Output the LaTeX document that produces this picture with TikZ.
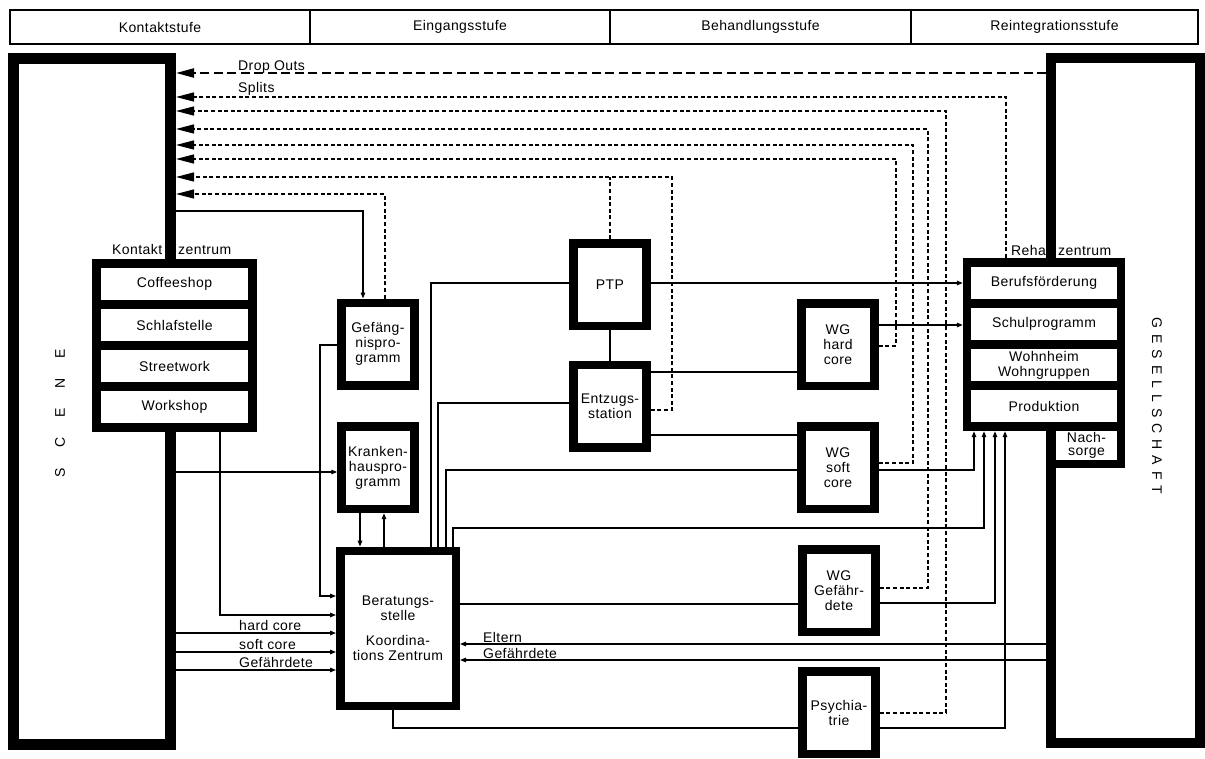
\documentclass[tikz,border=0pt]{standalone}
\usepackage{fontspec}
\setmainfont{Liberation Sans}[LetterSpace=3.0]
\usetikzlibrary{arrows.meta,positioning,calc}

\begin{document}
\begin{tikzpicture}[
  x=1pt, y=-1pt,
  font=\fontsize{14}{15}\selectfont,
  wall/.style={draw, line width=11pt, inner sep=0pt},
  stage/.style={draw, line width=1.4pt, minimum width=300pt, minimum height=34pt, inner sep=0pt},
  prog/.style={draw, line width=8.5pt, fill=white, align=center, inner sep=0pt,
    minimum width=73pt, minimum height=82.5pt},
  centre/.style={fill=black, inner sep=0pt, minimum width=165pt, minimum height=173pt},
  unit/.style={fill=white, inner sep=0pt, align=center, minimum width=147pt, minimum height=32pt},
  flow/.style={line width=1.3pt, -{Triangle[length=6pt, width=4.5pt]}},
  link/.style={line width=1.3pt},
  back/.style={line width=1.3pt, dash pattern=on 4pt off 2.6pt, -{Triangle[length=18pt, width=9pt]}},
  backline/.style={line width=1.3pt, dash pattern=on 4pt off 2.6pt},
  drop/.style={line width=2.2pt, dash pattern=on 9pt off 4.5pt, -{Triangle[length=18pt, width=9pt]}},
  lab/.style={inner sep=0pt, anchor=base west}
]
\useasboundingbox (0,0) rectangle (1205,758);

% stages
\node[stage] (kstufe) at (160,27) {Kontaktstufe};
\node[stage] (estufe) at (460,27) {Eingangsstufe};
\node[stage, minimum width=301pt] (bstufe) at (760.5,27) {Behandlungsstufe};
\node[stage, minimum width=287pt] (rstufe) at (1054.5,27) {Reintegrationsstufe};

% scene and society
\node[wall, minimum width=157pt, minimum height=686pt] (scene) at (92,401.5) {};
\node[wall, line width=10pt, minimum width=149pt, minimum height=685pt] (ges) at (1125.5,400.5) {};
\node[rotate=90] (scenetext) at (60,413)
  {S\hspace{20pt}C\hspace{20pt}E\hspace{20pt}N\hspace{20pt}E};
\node[rotate=-90] (gestext) at (1157,406)
  {G\hspace{6pt}E\hspace{6pt}S\hspace{6pt}E\hspace{6pt}L\hspace{6pt}L\hspace{6pt}S\hspace{6pt}C\hspace{6pt}H\hspace{6pt}A\hspace{6pt}F\hspace{6pt}T};

% contact centre
\node[centre] (kontakt) at (174.5,345.5) {};
\node[unit] (coffee) at (174.5,284) {Coffeeshop};
\node[unit] (schlaf) at (174.5,325) {Schlafstelle};
\node[unit] (street) at (174.5,366) {Streetwork};
\node[unit] (work) at (174.5,407) {Workshop};
\node[lab] (kontaktlab) at (112,254) {Kontakt};
\node[lab] (kzentrumlab) at (178,254) {zentrum};

% rehab centre
\node[centre, minimum width=162pt] (reha) at (1044,344.5) {};
\node[unit, minimum width=146pt] (beruf) at (1044,283) {Berufsförderung};
\node[unit, minimum width=146pt] (schul) at (1044,324) {Schulprogramm};
\node[unit, minimum width=146pt] (wohn) at (1044,365) {Wohnheim\\Wohngruppen};
\node[unit, minimum width=146pt] (prod) at (1044,406) {Produktion};
\node[fill=black, inner sep=0pt, minimum width=79pt, minimum height=38pt] (nachbox) at (1085.5,449) {};
\node[unit, minimum width=61pt, minimum height=29pt, font=\fontsize{14}{13}\selectfont]
  (nachsorge) at (1086.5,445.5) {Nach-\\sorge};
\node[lab] (rehalab) at (1011,255) {Reha};
\node[lab] (rzentrumlab) at (1058,255) {zentrum};

% programmes
\node[prog] (gef) at (378,344) {Gefäng-\\nispro-\\gramm};
\node[prog, below=32.7pt of gef] (kran) {Kranken-\\hauspro-\\gramm};
\node[prog, minimum width=115.5pt, minimum height=155pt] (ber) at (398,628.3)
  {Beratungs-\\stelle\\[10pt]Koordina-\\tions Zentrum};
\node[prog] (ptp) at (610,284.7) {PTP};
\node[prog, below=30.7pt of ptp] (ent) {Entzugs-\\station};
\node[prog] (wgh) at (838,344.7) {WG\\hard\\core};
\node[prog] (wgs) at (838,467.5) {WG\\soft\\core};
\node[prog] (wgg) at (839,590.5) {WG\\Gefähr-\\dete};
\node[prog] (psy) at (839,712.5) {Psychia-\\trie};

% way back to the scene
\draw[drop] (ges.west |- 0,73) -- (scene.east |- 0,73);
\draw[back] (1006,0 |- reha.north) |- (scene.east |- 0,97);
\draw[back] (psy.east |- 0,713) -| (946,111) -- (scene.east |- 0,111);
\draw[back] (wgg.east |- 0,588) -| (928,129) -- (scene.east |- 0,129);
\draw[back] (wgs.east |- 0,463) -| (913,145) -- (scene.east |- 0,145);
\draw[back] (wgh.east |- 0,346) -| (896,159) -- (scene.east |- 0,159);
\draw[back] (ent.east |- 0,410) -| (672,177) -- (scene.east |- 0,177);
\draw[backline] (ptp.north) -- (ptp.north |- 0,177);
\draw[back] (385,0 |- gef.north) |- (scene.east |- 0,194);
\node[lab] (droplab) at (238,70) {Drop Outs};
\node[lab] (splitlab) at (238,92) {Splits};

% entry
\draw[flow] (scene.east |- 0,211) -| (363,0 |- gef.north);
\draw[flow] (gef.west |- 0,345) -| (320,596) -- (ber.west |- 0,596);
\draw[flow] (scene.east |- 0,472) -- (kran.west |- 0,472);
\draw[flow] (220,0 |- kontakt.south) |- (ber.west |- 0,615);
\draw[flow] (scene.east |- 0,633) -- (ber.west |- 0,633);
\draw[flow] (scene.east |- 0,652) -- (ber.west |- 0,652);
\draw[flow] (scene.east |- 0,670) -- (ber.west |- 0,670);
\node[lab] (hardlab) at (239,630) {hard core};
\node[lab] (softlab) at (239,649) {soft core};
\node[lab] (gefalab) at (239,667) {Gefährdete};
\draw[flow] (360,0 |- kran.south) -- (360,0 |- ber.north);
\draw[flow] (384,0 |- ber.north) -- (384,0 |- kran.south);

% treatment
\draw[link] (ptp.west |- 0,283) -| (431,0 |- ber.north);
\draw[link] (ent.west |- 0,403) -| (438,0 |- ber.north);
\draw[link] (wgs.west |- 0,470) -| (446,0 |- ber.north);
\draw[flow] (453,0 |- ber.north) |- (984,528) -- (984,0 |- reha.south);
\draw[link] (ptp.south) -- (ent.north);
\draw[link] (ent.east |- 0,372) -- (wgh.west |- 0,372);
\draw[link] (ent.east |- 0,435) -- (wgs.west |- 0,435);
\draw[link] (ber.east |- 0,604) -- (wgg.west |- 0,604);
\draw[link] (393,0 |- ber.south) |- (psy.west |- 0,728);

% reintegration
\draw[flow] (ptp.east |- 0,283) -- (reha.west |- 0,283);
\draw[flow] (wgh.east |- 0,325) -- (reha.west |- 0,325);
\draw[flow] (wgs.east |- 0,470) -| (974,0 |- reha.south);
\draw[flow] (wgg.east |- 0,603) -| (995,0 |- reha.south);
\draw[flow] (psy.east |- 0,728) -| (1005,0 |- reha.south);
\draw[flow] (ges.west |- 0,644) -- (ber.east |- 0,644);
\draw[flow] (ges.west |- 0,660) -- (ber.east |- 0,660);
\node[lab] (elternlab) at (483,642) {Eltern};
\node[lab] (gefa2lab) at (483,658) {Gefährdete};
\end{tikzpicture}
\end{document}
